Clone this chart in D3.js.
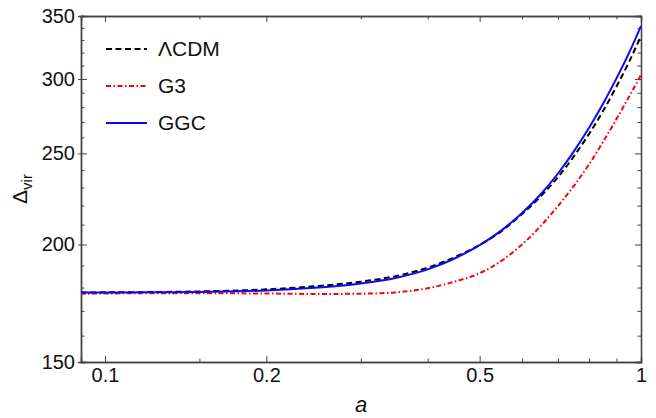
<!DOCTYPE html>
<html>
<head>
<meta charset="utf-8">
<script src="https://cdn.jsdelivr.net/npm/d3@7"></script>
<style>
    body { margin: 0; background: #fff; }
    text { font-family: "Liberation Sans", Arial, sans-serif; fill: #111; }
</style>
</head>
<body>
<div id="chart"></div>
<script>
// scale factor a and virial overdensity for the three models
const aVals = [0.09, 0.1, 0.12, 0.15, 0.2, 0.25, 0.3, 0.35, 0.4, 0.45, 0.5, 0.55, 0.6, 0.65, 0.7, 0.75, 0.8, 0.85, 0.9, 0.95, 1.0];
const lcdm = [177.8, 177.9, 178.0, 178.3, 179.2, 180.7, 182.6, 185.2, 189.0, 194.0, 199.8, 206.8, 215.5, 225.1, 235.9, 248.4, 262.2, 277.5, 294.5, 312.8, 333.2];
const g3 = [177.3, 177.4, 177.5, 177.5, 177.4, 177.2, 177.3, 177.9, 179.7, 182.7, 186.4, 192.3, 200.0, 209.3, 219.8, 231.0, 243.4, 257.3, 271.9, 287.3, 302.9];
const ggc = [177.8, 177.8, 177.9, 178.1, 178.7, 180.0, 181.8, 184.4, 188.2, 193.4, 199.7, 207.2, 216.0, 226.2, 238.0, 251.4, 266.2, 282.5, 300.4, 319.8, 341.5];

const seriesNames = ["\u039BCDM", "G3", "GGC"];

const xMajor = [0.1, 0.2, 0.5, 1];
const xMinor = [0.15, 0.3, 0.4, 0.6, 0.7, 0.8, 0.9];
const yMajor = [150, 200, 250, 300, 350];
const yMinor = [160, 170, 180, 190, 210, 220, 230, 240, 260, 270, 280, 290, 310, 320, 330, 340];

const width = 656, height = 418;
const plotLeft = 81, plotRight = 641, plotTop = 16, plotBottom = 362;

const svg = d3.select("#chart")
    .append("svg")
    .attr("width", width)
    .attr("height", height);

const x = d3.scaleLog().domain([0.0902, 1]).range([plotLeft, plotRight]);
const y = d3.scaleLog().domain([150, 350]).range([plotBottom, plotTop]);

svg.append("clipPath").attr("id", "plotArea")
    .append("rect")
    .attr("x", plotLeft).attr("y", plotTop)
    .attr("width", plotRight - plotLeft).attr("height", plotBottom - plotTop);

// frame + ticks (Mathematica style, ticks pointing inwards)
function tickAxis(axis, vals, size, labels) {
    return axis.tickValues(vals).tickSize(size).tickPadding(6)
        .tickFormat(labels ? (d => d3.format("")(d)) : "");
}

const frameColor = "#444";

svg.append("g").attr("transform", `translate(0,${plotBottom})`)
    .call(tickAxis(d3.axisBottom(x), xMajor, -6, true));
svg.append("g").attr("transform", `translate(0,${plotBottom})`)
    .call(tickAxis(d3.axisBottom(x), xMinor, -3.5, false));
svg.append("g").attr("transform", `translate(0,${plotTop})`)
    .call(tickAxis(d3.axisTop(x), xMajor, -6, false));
svg.append("g").attr("transform", `translate(0,${plotTop})`)
    .call(tickAxis(d3.axisTop(x), xMinor, -3.5, false));

svg.append("g").attr("transform", `translate(${plotLeft},0)`)
    .call(tickAxis(d3.axisLeft(y), yMajor, -6, true));
svg.append("g").attr("transform", `translate(${plotLeft},0)`)
    .call(tickAxis(d3.axisLeft(y), yMajor, 3, false));
svg.append("g").attr("transform", `translate(${plotLeft},0)`)
    .call(tickAxis(d3.axisLeft(y), yMinor, -3.5, false));
svg.append("g").attr("transform", `translate(${plotRight},0)`)
    .call(tickAxis(d3.axisRight(y), yMajor, -6, false));
svg.append("g").attr("transform", `translate(${plotRight},0)`)
    .call(tickAxis(d3.axisRight(y), yMinor, -3.5, false));

svg.selectAll(".domain").attr("stroke", frameColor).attr("stroke-width", 1.3);
svg.selectAll(".tick line").attr("stroke", frameColor).attr("stroke-width", 1);
svg.selectAll(".tick text")
    .attr("font-size", 20)
    .attr("font-family", "Liberation Sans, Arial, sans-serif")
    .attr("fill", "#111");

// curves
const styles = [
    { data: lcdm, color: "#000000", dash: "6,3.5" },
    { data: g3, color: "#ff0000", dash: "5,2.5,1.5,2.5" },
    { data: ggc, color: "#0a0af0", dash: null }
];

const line = d3.line()
    .x(d => x(d[0]))
    .y(d => y(d[1]))
    .curve(d3.curveMonotoneX);

const plot = svg.append("g").attr("clip-path", "url(#plotArea)");

styles.forEach(s => {
    plot.append("path")
        .datum(aVals.map((a, i) => [a, s.data[i]]))
        .attr("d", line)
        .attr("fill", "none")
        .attr("stroke", s.color)
        .attr("stroke-width", 2)
        .attr("stroke-dasharray", s.dash);
});

// legend
const legend = svg.append("g");
styles.forEach((s, i) => {
    let ly = 49 + i * 37;
    legend.append("line")
        .attr("x1", 106).attr("x2", 147)
        .attr("y1", ly).attr("y2", ly)
        .attr("stroke", s.color)
        .attr("stroke-width", 2)
        .attr("stroke-dasharray", s.dash);
    legend.append("text")
        .attr("x", 158).attr("y", ly)
        .attr("dy", "0.35em")
        .attr("font-size", 21)
        .text(seriesNames[i]);
});

// axis labels
svg.append("text")
    .attr("x", (plotLeft + plotRight) / 2).attr("y", 412)
    .attr("text-anchor", "middle")
    .attr("font-size", 22)
    .attr("font-style", "italic")
    .text("a");

const yLab = svg.append("text")
    .attr("transform", "translate(27,189) rotate(-90)")
    .attr("text-anchor", "middle")
    .attr("font-size", 21);
yLab.append("tspan").text("\u0394");
yLab.append("tspan").attr("font-size", 15).attr("dy", 5).text("vir");
</script>
</body>
</html>
